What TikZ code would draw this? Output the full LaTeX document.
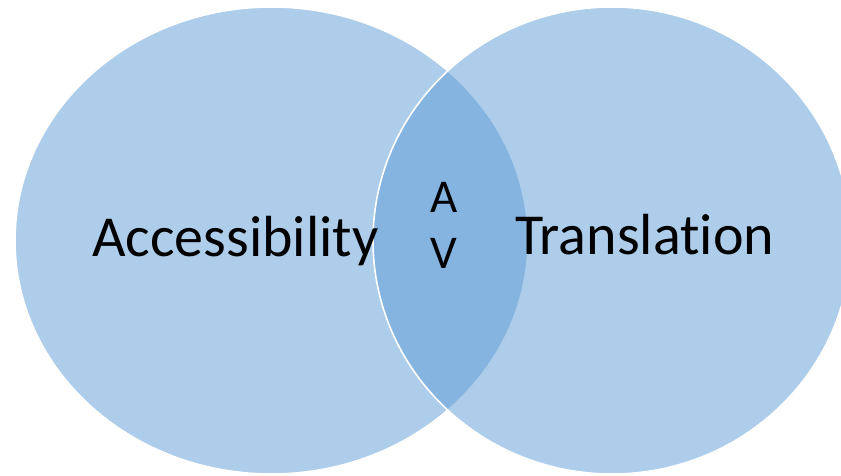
\documentclass[tikz,border=0pt]{standalone}
\usepackage{fontspec}
\setmainfont[Ligatures=NoCommon]{Carlito}
\definecolor{vennblue}{HTML}{5B9BD5}
\tikzset{
  venn/.style={fill=vennblue, fill opacity=0.5, draw=white, line width=1.6pt},
  biglabel/.style={font=\fontsize{58}{60}\selectfont, text=black, inner sep=0pt, anchor=base west},
  midlabel/.style={font=\fontsize{47}{50}\selectfont, text=black, inner sep=0pt, anchor=base}
}
\begin{document}
\begin{tikzpicture}[x=1pt,y=1pt]
  \useasboundingbox (0,0) rectangle (841,476);
  \clip (0,0) rectangle (841,476);
  \path[venn] (271.5,235.5) ellipse [x radius=256.5, y radius=233.5];
  \path[venn] (612,235.5) ellipse [x radius=239, y radius=233.5];
  \node[biglabel] (acc) at (92,219) {Accessibility};
  \node[biglabel] (tra) at (515,221) {Translation};
  \node[midlabel] (a) at (444,263) {A};
  \node[midlabel] (v) at (444,207) {V};
\end{tikzpicture}
\end{document}
